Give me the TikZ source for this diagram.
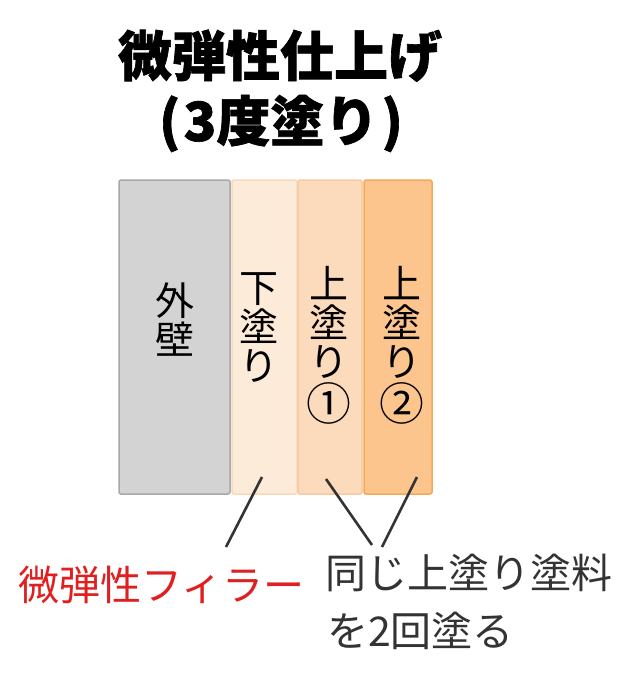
\documentclass[tikz,border=0pt]{standalone}
\usepackage{fontspec}
\newfontfamily\jp{Noto Sans CJK JP}
\newfontfamily\jptitle[BoldFeatures={FakeBold=1.2}]{Noto Sans CJK JP}
\definecolor{wallfill}{HTML}{D3D3D3}
\definecolor{walldraw}{HTML}{A8A8A8}
\definecolor{underfill}{HTML}{FDEBDA}
\definecolor{underdraw}{HTML}{F9D8BC}
\definecolor{topafill}{HTML}{FBDBBB}
\definecolor{topadraw}{HTML}{F6C9A2}
\definecolor{topbfill}{HTML}{FCC58D}
\definecolor{topbdraw}{HTML}{F5A855}
\definecolor{ink}{HTML}{333333}
\definecolor{redink}{HTML}{E02020}
\tikzset{
  layer/.style={draw=#1, line width=1.5pt, rounded corners=2pt, inner sep=0pt},
  vlabel/.style={align=center, font=\jp\fontsize{39}{39}\selectfont, text=black, inner sep=0pt},
  note/.style={font=\jp\fontsize{41}{48}\selectfont, inner sep=0pt, anchor=base west},
  titletext/.style={font=\jptitle\bfseries\fontsize{54}{60}\selectfont, inner sep=0pt, anchor=base},
  leader/.style={draw=ink, line width=2.6pt}
}
\newcommand{\circnum}[1]{\scalebox{1.15}{#1}}
\begin{document}
\begin{tikzpicture}[x=1pt,y=-1pt]
\useasboundingbox (0,0) rectangle (638,674);
% title
\node[titletext] (t1) at (280,76) {微弾性仕上げ};
\node[titletext] (t2) at (281,141) {(\kern3pt 3度塗り\kern3pt)};
% layers
\node[layer=walldraw, fill=wallfill, minimum width=111pt, minimum height=314pt] (wall) at (174.5,337) {};
\node[layer=underdraw, fill=underfill, minimum width=65pt, minimum height=314pt] (under) at (264.5,337) {};
\node[layer=topadraw, fill=topafill, minimum width=64pt, minimum height=314pt] (topa) at (330,337) {};
\node[layer=topbdraw, fill=topbfill, minimum width=68pt, minimum height=314pt] (topb) at (398,337) {};
% vertical labels
\node[vlabel] (lwall) at (175,320) {外\\壁};
\node[vlabel] (lunder) at (259,328) {下\\塗\\り};
\node[vlabel] (ltopa) at (329,345) {上\\塗\\り\\[3pt]\circnum{①}};
\node[vlabel] (ltopb) at (402,345) {上\\塗\\り\\[3pt]\circnum{②}};
% notes
\node[note, text=redink] (filler) at (18,600) {微弾性フィラー};
\node[note, text=ink] (same1) at (325,588) {同じ上塗り塗料};
\node[note, text=ink] (same2) at (327,646) {を2回塗る};
% leader lines
\coordinate (p1) at (262,477);
\coordinate (q1) at (226,547);
\coordinate (p2) at (326,479);
\coordinate (q2) at (372,545);
\coordinate (p3) at (417,477);
\coordinate (q3) at (382,547);
\draw[leader] (p1) -- (q1);
\draw[leader] (p2) -- (q2);
\draw[leader] (p3) -- (q3);
\end{tikzpicture}
\end{document}
